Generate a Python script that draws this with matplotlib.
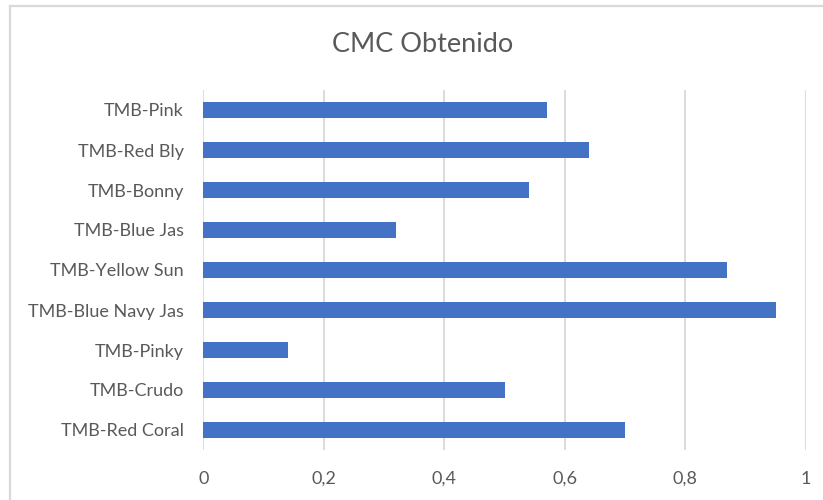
import matplotlib
matplotlib.use("Agg")
import matplotlib.pyplot as plt
from matplotlib.lines import Line2D
from matplotlib.ticker import FixedLocator, FuncFormatter

categories = ["TMB-Pink", "TMB-Red Bly", "TMB-Bonny", "TMB-Blue Jas", "TMB-Yellow Sun",
              "TMB-Blue Navy Jas", "TMB-Pinky", "TMB-Crudo", "TMB-Red Coral"]
values = [0.57, 0.64, 0.54, 0.32, 0.87, 0.95, 0.14, 0.50, 0.70]
x_ticks = [0, 0.2, 0.4, 0.6, 0.8, 1.0]
title = "CMC Obtenido"

plt.rcParams['font.family'] = ['Lato', 'DejaVu Sans']
text_color = "#595959"
grid_color = "#d9d9d9"
bar_color = "#4472C4"

fig = plt.figure(figsize=(8.23, 5.0), dpi=100)
ax = fig.add_axes([203.4 / 823, 1 - 450 / 500, (805.8 - 203.4) / 823, 360 / 500])

ypos = list(range(len(categories)))
ax.barh(ypos, values, height=0.4, color=bar_color, zorder=3)

ax.set_xlim(0, 1)
ax.set_ylim(len(categories) - 0.5, -0.5)
ax.set_yticks(ypos)
ax.set_yticklabels(categories)
ax.xaxis.set_major_locator(FixedLocator(x_ticks))
ax.xaxis.set_major_formatter(FuncFormatter(lambda v, p: ("%g" % v).replace(".", ",")))

for s in ax.spines.values():
    s.set_visible(False)
ax.tick_params(axis='both', length=0, colors=text_color, labelsize=13)
ax.tick_params(axis='y', pad=14)
ax.tick_params(axis='x', pad=15)
ax.grid(axis='x', color=grid_color, linewidth=1.3, zorder=0)
ax.grid(axis='y', visible=False)

fig.text(423 / 823, 1 - 45 / 500, title, ha='center', va='center',
         fontsize=19.5, color=text_color)

# chart border (partial, as in reference crop)
fig.add_artist(Line2D([10 / 823, 10 / 823], [0, 1 - 6 / 500], transform=fig.transFigure,
                      color=grid_color, linewidth=1.6))
fig.add_artist(Line2D([10 / 823, 1], [1 - 6 / 500, 1 - 6 / 500], transform=fig.transFigure,
                      color=grid_color, linewidth=1.6))

fig.savefig("out.png", dpi=100, facecolor="white")
